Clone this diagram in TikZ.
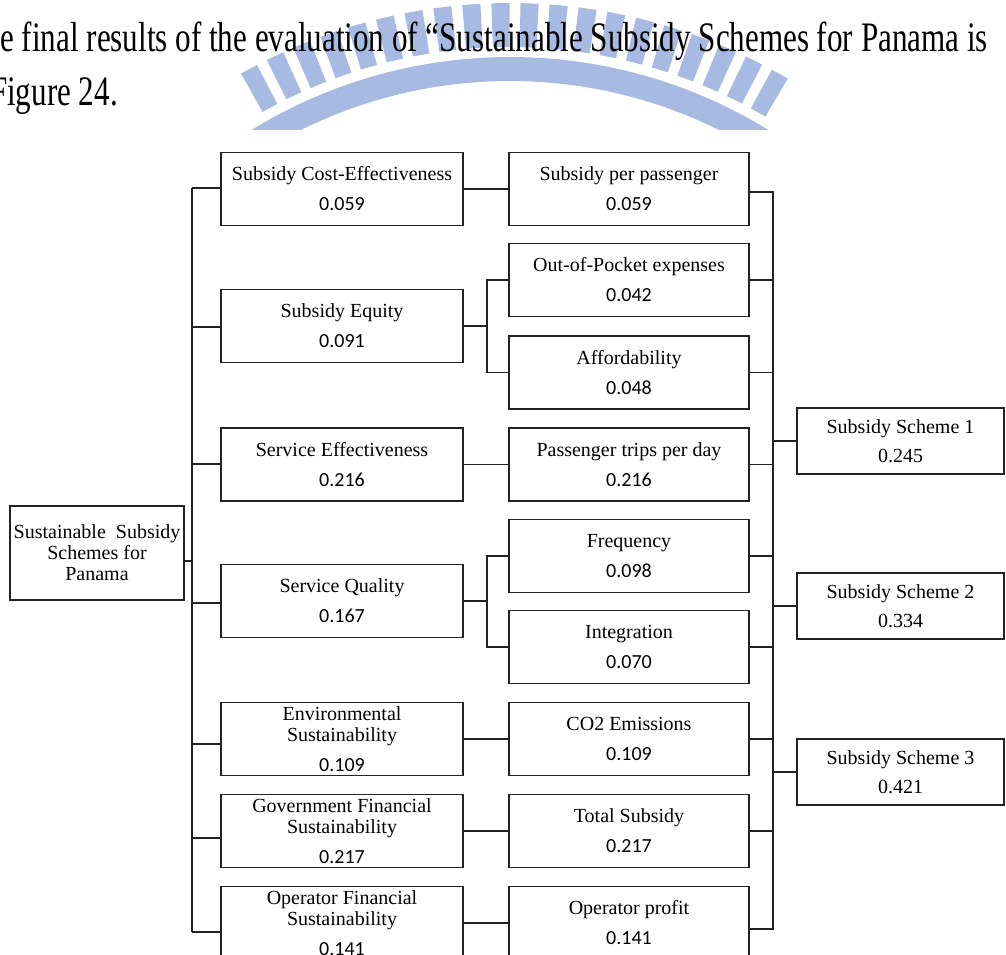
\documentclass[tikz,border=0pt]{standalone}
\usepackage{fontspec}
\setmainfont{Liberation Serif}
\newfontfamily\numfont{Carlito}
\definecolor{wmblue}{RGB}{166,186,226}
\definecolor{edge}{RGB}{35,35,35}
\begin{document}
\begin{tikzpicture}[x=1pt,y=-1pt,
  box/.style={draw=edge, line width=1.3pt, rectangle, inner sep=0pt, align=center,
              font=\fontsize{20}{21}\selectfont},
  crit/.style={box, minimum width=242pt, minimum height=73pt},
  sub/.style={box, minimum width=240pt, minimum height=73pt},
  alt/.style={box, minimum width=207pt, minimum height=66pt},
  link/.style={draw=edge, line width=1.3pt},
  body/.style={font=\fontsize{42}{50}\selectfont, inner sep=0pt}
]
\useasboundingbox (0,0) rectangle (1006,955);
\begin{scope}
\clip (0,0) rectangle (1006,955);

% faint seal behind the running text
\begin{scope}
\clip (0,0) rectangle (1006,130);
\coordinate (wmC) at (510,551);
\fill[wmblue] ([shift={(50:494pt)}]wmC) arc[start angle=50,end angle=130,radius=494pt]
  -- ([shift={(130:470pt)}]wmC) arc[start angle=130,end angle=50,radius=470pt] -- cycle;
\foreach \a in {60.5,63.55,...,121} {
  \fill[wmblue] ([shift={(\a-0.95:504pt)}]wmC) -- ([shift={(\a-0.95:548pt)}]wmC)
    -- ([shift={(\a+0.95:548pt)}]wmC) -- ([shift={(\a+0.95:504pt)}]wmC) -- cycle;
}
\end{scope}

% running text of the page
\node[body, anchor=base east] (line1) at (988,52)
  {\scalebox{0.74}[1]{e final results of the evaluation of “Sustainable Subsidy Schemes for Panama is}};
\node[body, anchor=base east] (line2) at (118,106) {\scalebox{0.74}[1]{Figure 24.}};

% goal
\node[box, minimum width=174pt, minimum height=94pt] (root) at (97,553)
  {Sustainable\ \ Subsidy\\Schemes for\\Panama};

% criteria
\node[crit] (A1) at (342,189) {Subsidy Cost-Effectiveness\\[9pt]{\numfont 0.059}};
\node[crit] (A2) at (342,326) {Subsidy Equity\\[9pt]{\numfont 0.091}};
\node[crit] (A3) at (342,464.5) {Service Effectiveness\\[9pt]{\numfont 0.216}};
\node[crit] (A4) at (342,601) {Service Quality\\[9pt]{\numfont 0.167}};
\node[crit] (A5) at (342,739) {Environmental\\Sustainability\\[9pt]{\numfont 0.109}};
\node[crit] (A6) at (342,831) {Government Financial\\Sustainability\\[9pt]{\numfont 0.217}};
\node[crit] (A7) at (342,923) {Operator Financial\\Sustainability\\[9pt]{\numfont 0.141}};

% sub-criteria
\node[sub] (B1) at (629,189) {Subsidy per passenger\\[9pt]{\numfont 0.059}};
\node[sub] (B2) at (629,280) {Out-of-Pocket expenses\\[9pt]{\numfont 0.042}};
\node[sub] (B3) at (629,372.5) {Affordability\\[9pt]{\numfont 0.048}};
\node[sub] (B4) at (629,464.5) {Passenger trips per day\\[9pt]{\numfont 0.216}};
\node[sub] (B5) at (629,556) {Frequency\\[9pt]{\numfont 0.098}};
\node[sub] (B6) at (629,647) {Integration\\[9pt]{\numfont 0.070}};
\node[sub] (B7) at (629,739) {CO2 Emissions\\[9pt]{\numfont 0.109}};
\node[sub] (B8) at (629,831) {Total Subsidy\\[9pt]{\numfont 0.217}};
\node[sub] (B9) at (629,923) {Operator profit\\[9pt]{\numfont 0.141}};

% alternatives
\node[alt] (C1) at (900.5,441) {Subsidy Scheme 1\\[8pt]0.245};
\node[alt] (C2) at (900.5,606) {Subsidy Scheme 2\\[8pt]0.334};
\node[alt] (C3) at (900.5,772) {Subsidy Scheme 3\\[8pt]0.421};

% goal to criteria
\coordinate (jA1) at (192,188);
\coordinate (jA2) at (192,327);
\coordinate (jA3) at (192,464);
\coordinate (jA4) at (192,603);
\coordinate (jA5) at (192,744);
\coordinate (jA6) at (192,838);
\coordinate (jA7) at (192,932);
\coordinate (jR) at (192,561);
\draw[link] (jA1) -- (jA7);
\draw[link] (jR -| root.east) -- (jR);
\foreach \i in {1,...,7} { \draw[link] (jA\i) -- (jA\i -| A\i.west); }

% criteria to sub-criteria
\coordinate (jE) at (487,327);
\coordinate (jQ) at (487,601);
\draw[link] (A1.east) -- (B1.west);
\draw[link] (A2.east) -- (A2.east -| jE);
\draw[link] (B2.west) -| (jE) |- (B3.west);
\draw[link] (A3.east) -- (B4.west);
\draw[link] (A4.east) -- (A4.east -| jQ);
\draw[link] (B5.west) -| (jQ) |- (B6.west);
\draw[link] (A5.east) -- (B7.west);
\draw[link] (A6.east) -- (B8.west);
\draw[link] (A7.east) -- (B9.west);

% sub-criteria to alternatives
\coordinate (rTop) at (773,192);
\coordinate (rBot) at (773,929);
\draw[link] (B1.east |- rTop) -- (rTop) -- (rBot) -- (B9.east |- rBot);
\foreach \i in {2,...,8} { \draw[link] (B\i.east) -- (B\i.east -| rTop); }
\foreach \i in {1,2,3} { \draw[link] (C\i.west) -- (C\i.west -| rTop); }
\end{scope}
\end{tikzpicture}
\end{document}
